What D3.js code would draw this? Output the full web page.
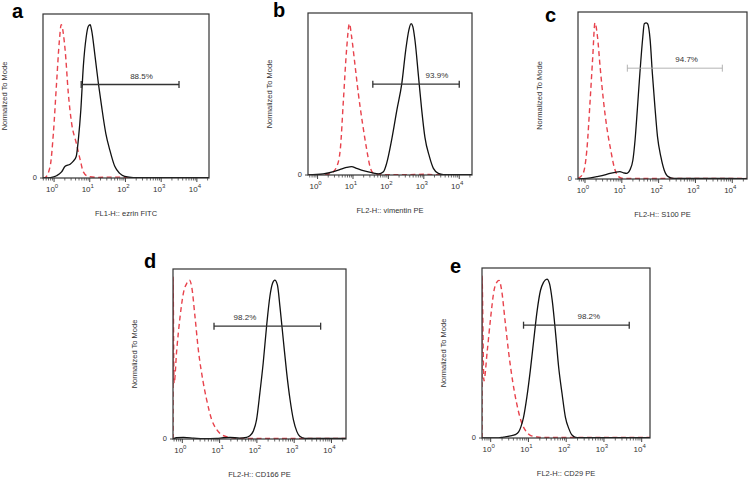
<!DOCTYPE html>
<html>
<head>
<meta charset="utf-8">
<script src="https://cdn.jsdelivr.net/npm/d3@7"></script>
<style>
  body { margin: 0; background: #fff; }
  svg { display: block; font-family: "Liberation Sans", Arial, sans-serif; }
</style>
</head>
<body>
<svg id="chart" width="748" height="480"></svg>
<script>
// values are log10 of intensity (decades) vs. % of mode
const panelLetters = ["a", "b", "c", "d", "e"];
const xTitles = ["FL1-H:: ezrin FITC", "FL2-H:: vimentin PE", "FL2-H:: S100 PE", "FL2-H:: CD166 PE", "FL2-H:: CD29 PE"];
const yTitle = "Normalized To Mode";
const decades = [0, 1, 2, 3, 4];

const gateLabels = ["88.5%", "93.9%", "94.7%", "98.2%", "98.2%"];
const gateFrom = [0.76, 1.56, 1.15, 0.85, 0.87];
const gateTo = [3.5, 4.0, 3.73, 3.71, 3.67];
const gateLevel = [61, 60, 71, 71, 71];
const gateLabelAt = [2.45, 3.37, 2.76, 1.68, 2.6];

const controlA = [[-0.31,0],[-0.25,0.3],[-0.11,7.6],[-0.02,29],[0.07,62],[0.15,90],[0.2,100],[0.31,83.5],[0.4,55],[0.49,36],[0.62,23],[0.73,12],[0.82,4],[0.96,1],[1.2,0.4],[1.6,0.6],[1.94,0.5],[2.2,0],[4.4,0]];
const stainA = [[-0.31,0],[-0.1,0.3],[0.07,1.5],[0.21,4],[0.31,7.6],[0.45,9],[0.54,11],[0.62,14],[0.68,25],[0.75,44.5],[0.82,73],[0.9,92],[0.96,99],[1.01,100],[1.05,96.6],[1.15,79],[1.24,62],[1.33,47],[1.45,29],[1.56,18.4],[1.7,7.6],[1.84,3],[1.98,1],[2.22,0.3],[4.4,0.2]];

const controlB = [[-0.27,0],[0.16,0],[0.4,1.5],[0.54,5.5],[0.64,16.5],[0.73,49.6],[0.82,83],[0.9,100],[0.96,91.5],[1.06,72],[1.15,54],[1.27,34],[1.39,16.5],[1.48,5.5],[1.58,1],[1.67,0.3],[2.5,0.2],[3.0,0.5],[3.3,0.2],[4.4,0.2]];
const stainB = [[-0.27,0],[0.16,0.7],[0.45,2.2],[0.64,3.7],[0.82,5],[0.96,5.5],[1.1,4.4],[1.29,2.9],[1.53,1.5],[1.72,0.7],[1.86,2.2],[1.95,7.7],[2.09,23],[2.24,43],[2.38,60.7],[2.49,82.7],[2.58,96],[2.64,100],[2.69,98],[2.75,89],[2.85,65],[2.94,43],[3.03,25],[3.16,12],[3.27,4.4],[3.41,1.1],[3.55,0.3],[4.4,0.2]];

const controlC = [[-0.19,0.4],[-0.05,3.6],[0.05,18.5],[0.14,50.5],[0.21,78],[0.27,100],[0.34,91],[0.41,72],[0.5,50.5],[0.59,33.5],[0.7,18.5],[0.79,7.9],[0.91,1.5],[1.04,0.3],[4.4,0.3]];
const stainC = [[-0.19,0],[0.05,0.4],[0.32,1.5],[0.54,2.6],[0.68,3.6],[0.82,4.3],[0.95,4.7],[1.04,4],[1.13,3.6],[1.22,5.8],[1.3,12],[1.36,25],[1.42,44],[1.49,67.5],[1.57,91],[1.61,99.5],[1.66,100],[1.7,99.5],[1.77,89],[1.83,67.5],[1.9,46],[1.97,27],[2.06,14.3],[2.15,5.8],[2.26,1.5],[2.4,0.4],[4.4,0.3]];

const controlD = [[-0.25,0],[-0.25,102],[-0.22,35],[-0.15,56],[-0.06,77],[0.03,92],[0.12,98],[0.19,100],[0.25,96],[0.34,77],[0.43,56],[0.55,37],[0.65,25],[0.79,12],[0.92,6],[1.05,2.7],[1.23,1.3],[1.46,0.4],[4.4,0.3]];
const stainD = [[-0.25,0],[-0.15,0.8],[0.03,1],[0.3,0.6],[0.56,0.2],[0.92,0.4],[1.1,0.8],[1.28,1],[1.54,0.6],[1.72,1],[1.81,2],[1.9,4.8],[1.99,12],[2.08,29],[2.17,48],[2.26,71],[2.35,90],[2.42,98],[2.48,100],[2.55,97],[2.62,83],[2.71,62],[2.8,41.5],[2.89,24.7],[2.98,12],[3.07,4.8],[3.15,1.7],[3.29,0.4],[4.4,0.3]];

const controlE = [[-0.23,0],[-0.23,102],[-0.18,36],[-0.09,55],[0,76],[0.09,93],[0.16,98],[0.22,99.2],[0.29,93],[0.38,74],[0.47,55],[0.58,36],[0.69,21.6],[0.8,11],[0.92,4.8],[1.05,1.7],[1.23,0.6],[1.5,0.3],[4.3,0.3]];
const stainE = [[-0.23,0],[0.16,0],[0.34,0.6],[0.52,1.3],[0.65,2.1],[0.74,3.8],[0.8,7],[0.87,13],[0.96,26],[1.05,42.6],[1.14,61.5],[1.23,80],[1.32,93],[1.4,98],[1.49,100],[1.56,97],[1.63,86.6],[1.72,65.7],[1.8,44.7],[1.89,28],[1.98,13],[2.07,5.9],[2.16,1.7],[2.29,0.2],[4.3,0.2]];

const controls = [controlA, controlB, controlC, controlD, controlE];
const stains = [stainA, stainB, stainC, stainD, stainE];

// frame boxes and visible decade range per panel
const layout = [
  { left: 43,  top: 14,  right: 209, bottom: 178, lo: -0.31, hi: 4.34, letterX: 12,  letterY: 18 },
  { left: 308, top: 13,  right: 472, bottom: 175, lo: -0.27, hi: 4.36, letterX: 273, letterY: 17 },
  { left: 578, top: 12,  right: 747, bottom: 179, lo: -0.19, hi: 4.4,  letterX: 545, letterY: 22 },
  { left: 173, top: 269, right: 346, bottom: 439, lo: -0.25, hi: 4.39, letterX: 144, letterY: 268 },
  { left: 482, top: 268, right: 650, bottom: 438, lo: -0.23, hi: 4.22, letterX: 450, letterY: 273 }
];

const svg = d3.select("#chart");

layout.forEach((box, i) => {
  const x = d3.scaleLinear().domain([box.lo, box.hi]).range([box.left, box.right]);
  const y = d3.scaleLinear().domain([0, 107]).range([box.bottom, box.top]);
  const g = svg.append("g");

  g.append("clipPath").attr("id", "clip" + i)
    .append("rect")
    .attr("x", box.left).attr("y", box.top - 2)
    .attr("width", box.right - box.left).attr("height", box.bottom - box.top + 2);

  const line = d3.line()
    .x(d => x(d[0]))
    .y(d => y(d[1]))
    .curve(d3.curveMonotoneX);

  // log axis ticks (minor 2..9 per decade)
  const minor = [];
  for (let n = -1; n <= 4; n++) {
    for (let k = 2; k <= 9; k++) {
      const v = n + Math.log10(k);
      if (v > box.lo && v < box.hi) minor.push(v);
    }
  }
  g.selectAll(".minor").data(minor).join("line")
    .attr("x1", d => x(d)).attr("x2", d => x(d))
    .attr("y1", box.bottom).attr("y2", box.bottom + 2.5)
    .attr("stroke", "#444").attr("stroke-width", 0.8);
  g.selectAll(".major").data(decades).join("line")
    .attr("x1", d => x(d)).attr("x2", d => x(d))
    .attr("y1", box.bottom).attr("y2", box.bottom + 4)
    .attr("stroke", "#444").attr("stroke-width", 1);

  const lbl = g.selectAll(".tl").data(decades).join("text")
    .attr("x", d => x(d) - 2)
    .attr("y", box.bottom + 14)
    .attr("text-anchor", "middle")
    .attr("font-size", 8)
    .attr("fill", "#333");
  lbl.append("tspan").text("10");
  lbl.append("tspan").attr("dy", -4).attr("font-size", 6).text(d => d);

  // y axis zero
  g.append("line")
    .attr("x1", box.left - 3).attr("x2", box.left)
    .attr("y1", box.bottom).attr("y2", box.bottom)
    .attr("stroke", "#444");
  g.append("text")
    .attr("x", box.left - 6).attr("y", box.bottom + 2)
    .attr("text-anchor", "end")
    .attr("font-size", 7.5).attr("fill", "#333")
    .text("0");

  // histograms
  const plot = g.append("g").attr("clip-path", `url(#clip${i})`);
  plot.append("path").datum(controls[i])
    .attr("d", line)
    .attr("fill", "none")
    .attr("stroke", "#e8424c")
    .attr("stroke-width", 1.4)
    .attr("stroke-dasharray", "5,3.5");
  plot.append("path").datum(stains[i])
    .attr("d", line)
    .attr("fill", "none")
    .attr("stroke", "#111")
    .attr("stroke-width", 1.3);

  // frame
  g.append("rect")
    .attr("x", box.left).attr("y", box.top)
    .attr("width", box.right - box.left).attr("height", box.bottom - box.top)
    .attr("fill", "none").attr("stroke", "#333").attr("stroke-width", 1.2);

  // gate
  const gateColor = i === 2 ? "#aaa" : "#333";
  const gw = i === 2 ? 0.9 : 1.3;
  const gy = y(gateLevel[i]);
  g.append("line")
    .attr("x1", x(gateFrom[i])).attr("x2", x(gateTo[i]))
    .attr("y1", gy).attr("y2", gy)
    .attr("stroke", gateColor).attr("stroke-width", gw);
  [gateFrom[i], gateTo[i]].forEach(v => {
    g.append("line")
      .attr("x1", x(v)).attr("x2", x(v))
      .attr("y1", gy - 3.5).attr("y2", gy + 3.5)
      .attr("stroke", gateColor).attr("stroke-width", gw);
  });
  g.append("text")
    .attr("x", x(gateLabelAt[i])).attr("y", gy - 6)
    .attr("text-anchor", "middle")
    .attr("font-size", 8).attr("fill", "#333")
    .text(gateLabels[i]);

  // titles
  g.append("text")
    .attr("x", (box.left + box.right) / 2).attr("y", box.bottom + 37.5)
    .attr("text-anchor", "middle")
    .attr("font-size", 7.5).attr("fill", "#333")
    .text(xTitles[i]);
  g.append("text")
    .attr("transform", `translate(${box.left - 36},${(box.top + box.bottom) / 2}) rotate(-90)`)
    .attr("text-anchor", "middle")
    .attr("font-size", 7.5).attr("fill", "#333")
    .text(yTitle);

  g.append("text")
    .attr("x", box.letterX).attr("y", box.letterY)
    .attr("font-size", 20).attr("font-weight", "bold")
    .attr("fill", "#000")
    .text(panelLetters[i]);
});
</script>
</body>
</html>
